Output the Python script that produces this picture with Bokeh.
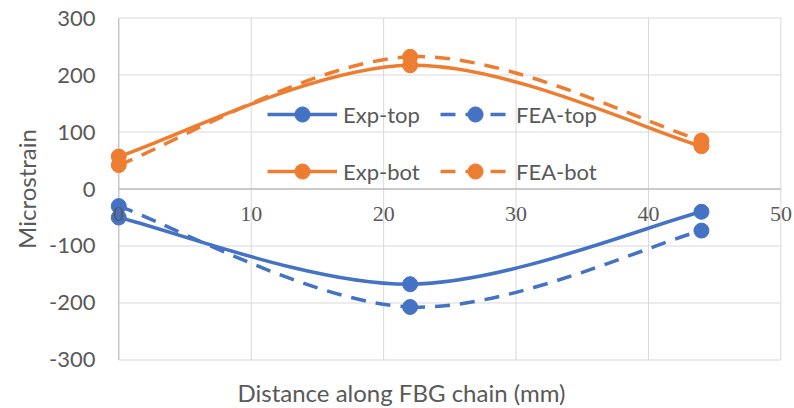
from bokeh.plotting import figure
from bokeh.models import (Range1d, FixedTicker, Legend, LegendItem, ColumnDataSource,
                          LabelSet, Title)
from bokeh.embed import file_html
from bokeh.resources import INLINE

# ---- data ----
x_pos = [0, 22, 44]
exp_top = [-50, -167, -40]
fea_top = [-30, -207, -73]
exp_bot = [57, 217, 75]
fea_bot = [42, 232, 85]

x_ticks = [0, 10, 20, 30, 40, 50]
y_ticks = [-300, -200, -100, 0, 100, 200, 300]
x_tick_labels = ["0", "10", "20", "30", "40", "50"]
y_tick_labels = {-300: "-300", -200: "-200", -100: "-100", 0: "0", 100: "100", 200: "200", 300: "300"}

BLUE = "#4472C4"
ORANGE = "#ED7D31"
TXT = "#595959"
GRID = "#D9D9D9"
AXIS = "#BFBFBF"
FONT = "Lato"
FS = "22px"
FS_T = "24px"

p = figure(width=794, height=406, output_backend="svg", toolbar_location=None,
           x_range=Range1d(-0.7, 50.95), y_range=Range1d(-304.4, 304.4),
           min_border_left=109, min_border_right=1, min_border_top=15, min_border_bottom=44)
p.outline_line_color = None
p.xgrid.visible = False
p.ygrid.visible = False

# grid lines (limited to the plot area 0..50)
p.segment(x0=[x_ticks[0]] * len(y_ticks), x1=[x_ticks[-1]] * len(y_ticks), y0=y_ticks, y1=y_ticks,
          line_color=GRID, line_width=1)
p.segment(x0=x_ticks[1:], x1=x_ticks[1:], y0=[y_ticks[0]] * (len(x_ticks) - 1),
          y1=[y_ticks[-1]] * (len(x_ticks) - 1), line_color=GRID, line_width=1)
# axis lines
p.segment(x0=[x_ticks[0]], x1=[x_ticks[0]], y0=[y_ticks[0]], y1=[y_ticks[-1]], line_color=AXIS, line_width=1.3)
p.segment(x0=[x_ticks[0]], x1=[x_ticks[-1]], y0=[0], y1=[0], line_color=AXIS, line_width=1.3)

# y axis
ya = p.yaxis[0]
ya.ticker = FixedTicker(ticks=y_ticks)
ya.major_label_overrides = y_tick_labels
ya.axis_line_color = None
ya.major_tick_line_color = None
ya.minor_tick_line_color = None
ya.major_tick_out = 0
ya.major_tick_in = 0
ya.major_label_standoff = 14
ya.major_label_text_font = FONT
ya.major_label_text_font_size = FS
ya.major_label_text_color = TXT
ya.axis_label = "Microstrain"
ya.axis_label_text_font = FONT
ya.axis_label_text_font_size = FS_T
ya.axis_label_text_font_style = "normal"
ya.axis_label_text_color = TXT
ya.axis_label_standoff = 5

# x axis: hidden; its title is set below the chart, tick labels sit on the zero line
p.xaxis.visible = False
# thin spacer panel between the plot area and the axis title
p.add_layout(Title(text=" ", text_font_size="1px", standoff=10), "below")
p.add_layout(Title(text="Distance along FBG chain (mm)", align="left", offset=128,
                   vertical_align="bottom", text_font=FONT, text_font_size=FS_T,
                   text_font_style="normal", text_color=TXT, standoff=0), "below")

xlab_src = ColumnDataSource(dict(x=x_ticks, y=[0] * len(x_ticks), t=x_tick_labels))
p.add_layout(LabelSet(x="x", y="y", text="t", source=xlab_src, text_align="center",
                      text_baseline="middle", y_offset=-25, text_font=FONT,
                      text_font_size=FS, text_color=TXT))


def smooth(xs, ys):
    """Bezier control points (Catmull-Rom style, as Excel's smoothed line)."""
    n = len(xs)
    px = [xs[0]] + list(xs) + [xs[-1]]
    py = [ys[0]] + list(ys) + [ys[-1]]
    d = dict(x0=[], y0=[], x1=[], y1=[], cx0=[], cy0=[], cx1=[], cy1=[])
    for i in range(1, n):
        d["x0"].append(px[i]); d["y0"].append(py[i])
        d["x1"].append(px[i + 1]); d["y1"].append(py[i + 1])
        d["cx0"].append(px[i] + (px[i + 1] - px[i - 1]) / 6)
        d["cy0"].append(py[i] + (py[i + 1] - py[i - 1]) / 6)
        d["cx1"].append(px[i + 1] - (px[i + 2] - px[i]) / 6)
        d["cy1"].append(py[i + 1] - (py[i + 2] - py[i]) / 6)
    return d


LW = 3.5
DASH = "15 10"
series = [
    ("Exp-top", exp_top, BLUE, "solid"),
    ("FEA-top", fea_top, BLUE, DASH),
    ("Exp-bot", exp_bot, ORANGE, "solid"),
    ("FEA-bot", fea_bot, ORANGE, DASH),
]
items = {}
for name, ys, col, dash in series:
    d = smooth(x_pos, ys)
    p.bezier(x0="x0", y0="y0", x1="x1", y1="y1", cx0="cx0", cy0="cy0", cx1="cx1", cy1="cy1",
             source=ColumnDataSource(d), line_color=col, line_width=LW, line_dash=dash)
    lr = p.line(x=[float("nan")], y=[float("nan")], line_color=col, line_width=LW, line_dash=dash)
    sr = p.scatter(x=x_pos, y=ys, size=15, marker="circle", fill_color=col, line_color=col)
    items[name] = LegendItem(label=name, renderers=[lr, sr])

# Bokeh fills legend columns first: order so rows read Exp-top/FEA-top, Exp-bot/FEA-bot
legend_order = ["Exp-top", "Exp-bot", "FEA-top", "FEA-bot"]
legend = Legend(items=[items[k] for k in legend_order], ncols=2, location=(158, 172),
                padding=0, margin=0, spacing=19, glyph_width=70, glyph_height=38,
                label_height=38, label_width=78, label_standoff=6, label_text_font=FONT,
                label_text_font_size=FS, label_text_color=TXT, background_fill_alpha=0,
                border_line_color=None)
p.add_layout(legend, "center")

open("out.html", "w").write(file_html(p, INLINE))
